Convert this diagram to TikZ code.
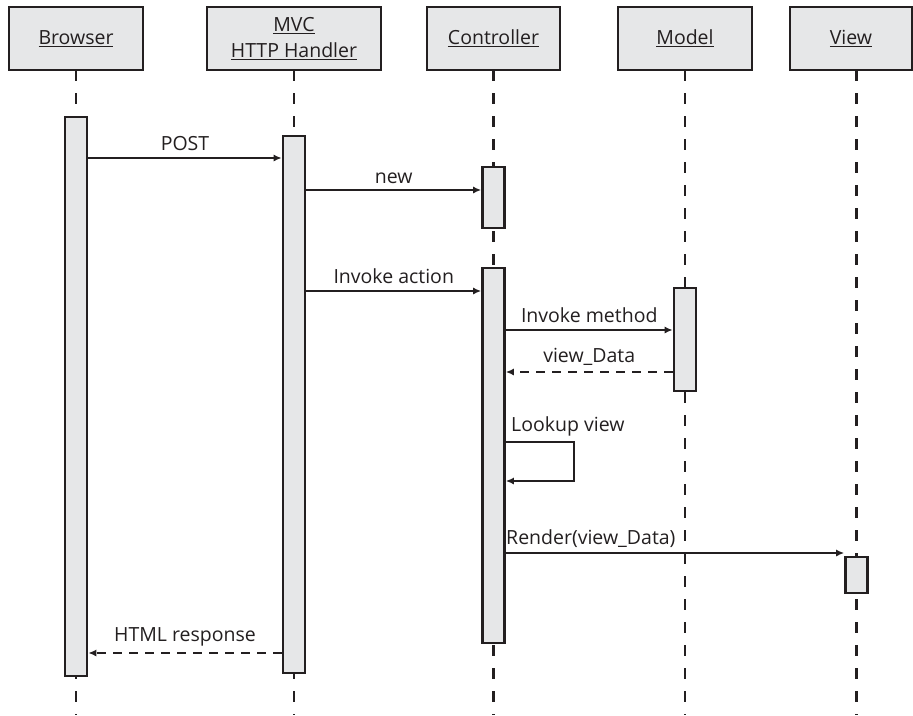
\documentclass[tikz,border=0pt]{standalone}
\usepackage{fontspec}
\setmainfont{Open Sans}
\usetikzlibrary{arrows.meta}
\definecolor{boxfill}{HTML}{E6E7E8}
\definecolor{ink}{HTML}{231F20}
\tikzset{
  head/.style={draw=ink, line width=2.6pt, fill=boxfill, minimum height=63pt, inner sep=0pt, align=center, font=\fontsize{19.5}{26}\selectfont, text=ink},
  act/.style={draw=ink, line width=2.6pt, fill=boxfill, minimum width=22pt, inner sep=0pt},
  life/.style={draw=ink, line width=2.6pt, dash pattern=on 11pt off 12pt},
  msg/.style={draw=ink, line width=2pt, -{Latex[length=8pt,width=7pt]}},
  ret/.style={msg, dash pattern=on 9pt off 7pt},
  lbl/.style={font=\fontsize{19.5}{22}\selectfont, text=ink, inner sep=1pt}
}
\begin{document}
\begin{tikzpicture}[x=1pt,y=-1pt]
\useasboundingbox (0,0) rectangle (913,715);
% headers
\node[head, minimum width=134pt] (hb) at (76,38.5) {\underline{Browser}};
\node[head, minimum width=174pt] (hm) at (294,38.5) {\underline{MVC}\\\underline{HTTP Handler}};
\node[head, minimum width=133pt] (hc) at (493.5,38.5) {\underline{Controller}};
\node[head, minimum width=134pt] (hmo) at (685,38.5) {\underline{Model}};
\node[head, minimum width=122pt] (hv) at (851,38.5) {\underline{View}};
% lifeline ends
\coordinate (eb) at (76,715);
\coordinate (em) at (294,715);
\coordinate (ec) at (493.5,715);
\coordinate (emo) at (685,715);
\coordinate (ev) at (856.5,715);
\draw[life] (76,70) -- (eb);
\draw[life] (294,70) -- (em);
\draw[life] (493.5,70) -- (ec);
\draw[life] (685,70) -- (emo);
\draw[life] (856.5,70) -- (ev);
% activations
\node[act, minimum height=559pt] (ab) at (76,396.5) {};
\node[act, minimum height=537pt] (am) at (294,404.5) {};
\node[act, minimum height=61pt] (ac1) at (493.5,197.5) {};
\node[act, minimum height=375pt] (ac2) at (493.5,455.5) {};
\node[act, minimum height=103pt] (amo) at (685,339.5) {};
\node[act, minimum height=36pt] (av) at (856.5,575) {};
% messages
\draw[msg] (ab.east |- 0,158) -- node[lbl, above=5pt] {POST} (am.west |- 0,158);
\draw[msg] (am.east |- 0,190) -- node[lbl, above=4pt] {new} (ac1.west |- 0,190);
\draw[msg] (am.east |- 0,291) -- node[lbl, above=5pt] {Invoke action} (ac2.west |- 0,291);
\draw[msg] (ac2.east |- 0,330) -- node[lbl, above=5pt] {Invoke method} (amo.west |- 0,330);
\draw[ret] (amo.west |- 0,372) -- node[lbl, above=5pt] {view\_Data} (ac2.east |- 0,372);
\draw[msg] (ac2.east |- 0,442) -- (574,442) -- (574,481) -- (ac2.east |- 0,481);
\node[lbl, anchor=south west] at (510,437) {Lookup view};
\draw[msg] (ac2.east |- 0,553) -- (av.west |- 0,553);
\node[lbl, anchor=south west] at (505,549) {Render(view\_Data)};
\draw[ret] (am.west |- 0,653) -- node[lbl, above=5pt] {HTML response} (ab.east |- 0,653);
\end{tikzpicture}
\end{document}
